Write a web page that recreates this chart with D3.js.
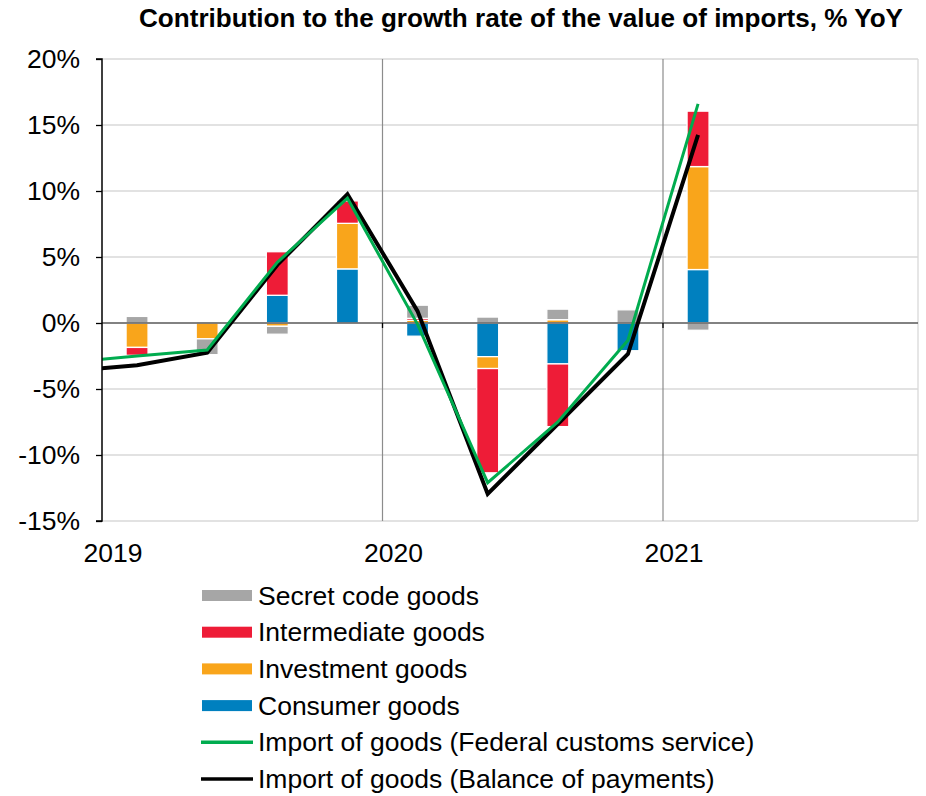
<!DOCTYPE html>
<html>
<head>
<meta charset="utf-8">
<script src="https://cdn.jsdelivr.net/npm/d3@7"></script>
<style>
	body { margin: 0; background: #fff; }
	svg text { font-family: 'Liberation Sans', Arial, sans-serif; fill: #000; }
</style>
</head>
<body>
<div id="chart"></div>
<script>
/* global d3 */

// quarter midpoints (year fraction), 2019Q1 .. 2021Q1
var quarters = [2019.125, 2019.375, 2019.625, 2019.875, 2020.125, 2020.375, 2020.625, 2020.875, 2021.125];

// contributions, percentage points
var secretGoods       = [0.5, -1.2, -0.6, 0, 1.0, 0.45, 0.8, 1.0, -0.55];
var intermediateGoods = [-0.6, 0, 3.3, 1.7, 0.15, -7.9, -4.75, 0, 4.2];
var investmentGoods   = [-1.85, -1.2, -0.25, 3.45, 0.2, -0.9, 0.25, 0, 7.8];
var consumerGoods     = [0, 0.12, 2.1, 4.1, -1.0, -2.55, -3.1, -2.1, 4.05];

// lines include 2018Q4, which runs out of the left edge
var lineQuarters = [2018.875].concat(quarters);
var customsImport = [-3.0, -2.5, -2.05, 4.6, 9.45, -0.1, -12.1, -7.5, -1.3, 16.6];
var bopImport     = [-3.65, -3.2, -2.25, 4.4, 9.75, 0.9, -12.95, -7.65, -2.35, 14.25];

var yTicks = [-15, -10, -5, 0, 5, 10, 15, 20];
var yearTicks = [2019, 2020, 2021];

var CHART = {};

CHART.width = 926;
CHART.height = 796;
CHART.left = 102;
CHART.right = 918;
CHART.top = 59;
CHART.bottom = 521;
CHART.barWidth = 22;
CHART.fontSize = 26.5;

CHART.series = [
	{ name: 'Consumer goods', values: consumerGoods, color: '#0080bf' },
	{ name: 'Investment goods', values: investmentGoods, color: '#f9a51b' },
	{ name: 'Intermediate goods', values: intermediateGoods, color: '#ee1c37' },
	{ name: 'Secret code goods', values: secretGoods, color: '#a6a6a6' }
];

CHART.lines = [
	{ name: 'Import of goods (Balance of payments)', values: bopImport, color: '#000000', width: 4 },
	{ name: 'Import of goods (Federal customs service)', values: customsImport, color: '#00ac4f', width: 3 }
];

CHART.x = d3.scaleLinear()
	.domain([2019, 2019 + (CHART.right - CHART.left) / 280.5])
	.range([CHART.left, CHART.right]);

CHART.y = d3.scaleLinear()
	.domain([-15, 20])
	.range([CHART.bottom, CHART.top]);

CHART.svg = d3.select('#chart')
  .append('svg')
	.attr('width', CHART.width)
	.attr('height', CHART.height);

CHART.svg.append('clipPath')
	.attr('id', 'plotClip')
  .append('rect')
	.attr('x', CHART.left)
	.attr('y', CHART.top - 10)
	.attr('width', CHART.right - CHART.left)
	.attr('height', CHART.bottom - CHART.top + 20);

//* TITLE
CHART.svg.append('text')
	.attr('x', 521)
	.attr('y', 27)
	.attr('font-size', 26)
	.attr('font-weight', 700)
	.attr('textLength', 764)
	.attr('lengthAdjust', 'spacingAndGlyphs')
	.style('text-anchor', 'middle')
	.text('Contribution to the growth rate of the value of imports, % YoY');

//* GRID
var grid = CHART.svg.append('g');

grid.selectAll('line.h')
	.data(yTicks.filter(function(d){ return d !== 0; }))
	.enter().append('line')
	.attr('x1', CHART.left)
	.attr('x2', CHART.right)
	.attr('y1', function(d){ return CHART.y(d); })
	.attr('y2', function(d){ return CHART.y(d); })
	.attr('stroke', '#d9d9d9')
	.attr('stroke-width', 1.3);

grid.append('line')
	.attr('x1', CHART.right)
	.attr('x2', CHART.right)
	.attr('y1', CHART.top)
	.attr('y2', CHART.bottom)
	.attr('stroke', '#d9d9d9')
	.attr('stroke-width', 1.3);

grid.selectAll('line.v')
	.data(yearTicks.slice(1))
	.enter().append('line')
	.attr('x1', function(d){ return CHART.x(d); })
	.attr('x2', function(d){ return CHART.x(d); })
	.attr('y1', CHART.top)
	.attr('y2', CHART.bottom)
	.attr('stroke', '#8c8c8c')
	.attr('stroke-width', 1.2);

//* BARS, stacked away from zero: positives up, negatives down
var stacks = quarters.map(function(){ return { pos: 0, neg: 0 }; });
var bars = [];

CHART.series.forEach(function(s){
	s.values.forEach(function(v, i){
		if ( v === 0 ) return;
		var base = v > 0 ? stacks[i].pos : stacks[i].neg;
		var end = base + v;
		if ( v > 0 ) stacks[i].pos = end; else stacks[i].neg = end;
		bars.push({ q: quarters[i], y0: base, y1: end, color: s.color });
	});
});

CHART.svg.append('g')
	.selectAll('rect')
	.data(bars)
	.enter().append('rect')
	.attr('x', function(d){ return CHART.x(d.q) - CHART.barWidth / 2; })
	.attr('width', CHART.barWidth)
	.attr('y', function(d){ return CHART.y(Math.max(d.y0, d.y1)); })
	.attr('height', function(d){ return Math.abs(CHART.y(d.y0) - CHART.y(d.y1)); })
	.attr('fill', function(d){ return d.color; })
	.attr('stroke', '#ffffff')
	.attr('stroke-width', 1.3);

//* ZERO LINE and its year ticks
CHART.svg.append('line')
	.attr('x1', CHART.left)
	.attr('x2', CHART.right)
	.attr('y1', CHART.y(0))
	.attr('y2', CHART.y(0))
	.attr('stroke', '#595959')
	.attr('stroke-width', 1.4);

CHART.svg.append('g')
	.selectAll('line')
	.data(yearTicks.slice(1))
	.enter().append('line')
	.attr('x1', function(d){ return CHART.x(d); })
	.attr('x2', function(d){ return CHART.x(d); })
	.attr('y1', CHART.y(0))
	.attr('y2', CHART.y(0) + 5)
	.attr('stroke', '#000')
	.attr('stroke-width', 1.3);

//* LINES
var line = d3.line()
	.x(function(d, i){ return CHART.x(lineQuarters[i]); })
	.y(function(d){ return CHART.y(d); });

CHART.svg.append('g')
	.attr('clip-path', 'url(#plotClip)')
	.selectAll('path')
	.data(CHART.lines)
	.enter().append('path')
	.attr('d', function(d){ return line(d.values); })
	.attr('fill', 'none')
	.attr('stroke', function(d){ return d.color; })
	.attr('stroke-width', function(d){ return d.width; })
	.attr('stroke-linejoin', 'miter');

//* Y AXIS
var yAxis = CHART.svg.append('g')
	.attr('transform', 'translate(' + CHART.left + ',0)')
	.call(d3.axisLeft(CHART.y)
		.tickValues(yTicks)
		.tickSize(6)
		.tickPadding(16)
		.tickFormat(function(d){ return d + '%'; }));

yAxis.select('.domain')
	.attr('stroke', '#000')
	.attr('stroke-width', 1.5)
	.attr('d', 'M-6,' + CHART.top + 'H0V' + CHART.bottom + 'H-6');

yAxis.selectAll('.tick line')
	.attr('stroke', '#000')
	.attr('stroke-width', 1.3);

yAxis.selectAll('.tick text')
	.attr('font-size', CHART.fontSize)
	.attr('font-family', "'Liberation Sans', Arial, sans-serif")
	.attr('fill', '#000');

//* X LABELS (year)
CHART.svg.append('g')
	.selectAll('text')
	.data(yearTicks)
	.enter().append('text')
	.attr('x', function(d){ return CHART.x(d) + 11; })
	.attr('y', 562)
	.attr('font-size', CHART.fontSize)
	.style('text-anchor', 'middle')
	.text(function(d){ return d; });

//* LEGEND
var legendItems = [
	{ name: 'Secret code goods', color: '#a6a6a6', type: 'bar' },
	{ name: 'Intermediate goods', color: '#ee1c37', type: 'bar' },
	{ name: 'Investment goods', color: '#f9a51b', type: 'bar' },
	{ name: 'Consumer goods', color: '#0080bf', type: 'bar' },
	{ name: 'Import of goods (Federal customs service)', color: '#00ac4f', type: 'line' },
	{ name: 'Import of goods (Balance of payments)', color: '#000000', type: 'line' }
];

var legend = CHART.svg.append('g')
	.selectAll('g')
	.data(legendItems)
	.enter().append('g')
	.attr('transform', function(d, i){ return 'translate(0,' + (595.5 + i * 36.7) + ')'; });

legend.filter(function(d){ return d.type === 'bar'; })
  .append('rect')
	.attr('x', 202)
	.attr('y', -5.5)
	.attr('width', 50)
	.attr('height', 11)
	.attr('fill', function(d){ return d.color; });

legend.filter(function(d){ return d.type === 'line'; })
  .append('line')
	.attr('x1', 201)
	.attr('x2', 253)
	.attr('stroke', function(d){ return d.color; })
	.attr('stroke-width', 3.4);

legend.append('text')
	.attr('x', 258)
	.attr('y', 9)
	.attr('font-size', CHART.fontSize)
	.text(function(d){ return d.name; });
</script>
</body>
</html>
